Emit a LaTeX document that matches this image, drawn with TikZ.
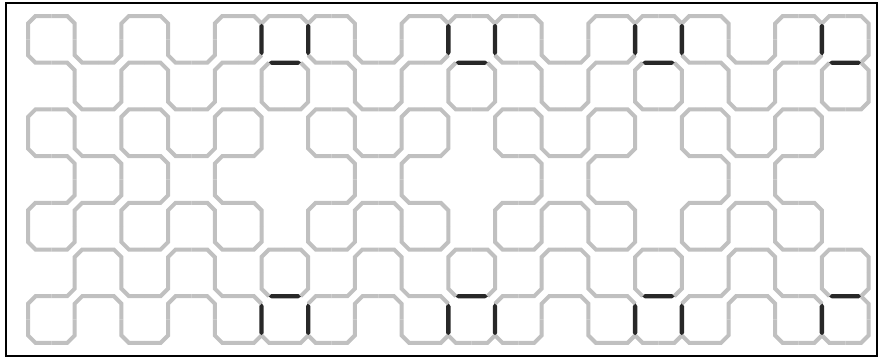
\documentclass[tikz,border=0pt]{standalone}
\definecolor{lg}{RGB}{192,192,192}
\definecolor{dg}{RGB}{40,40,40}
\tikzset{gl/.style={draw=lg, line width=4pt, line join=miter, line cap=butt},
 dl/.style={fill=dg}}
\def\hh{23.35}\def\cc{7.5}
% pair of half-edges at vertex (i,j) joined by a chamfer
\newcommand{\tpair}[6]{\draw[gl] ({28+46.7*(#1)+(#3)*\hh},{16+46.7*(#2)+(#4)*\hh}) -- ({28+46.7*(#1)+(#3)*\cc},{16+46.7*(#2)+(#4)*\cc}) -- ({28+46.7*(#1)+(#5)*\cc},{16+46.7*(#2)+(#6)*\cc}) -- ({28+46.7*(#1)+(#5)*\hh},{16+46.7*(#2)+(#6)*\hh});}
% gray half-edge joined by a chamfer to a dark edge
\newcommand{\tpaird}[6]{\draw[gl] ({28+46.7*(#1)+(#3)*\hh},{16+46.7*(#2)+(#4)*\hh}) -- ({28+46.7*(#1)+(#3)*\cc},{16+46.7*(#2)+(#4)*\cc}) -- ({28+46.7*(#1)+(#5)*\cc},{16+46.7*(#2)+(#6)*\cc});}
\newcommand{\myP}[2]{\tpair{#1}{#2}{0}{-1}{1}{0}\tpair{#1}{#2}{-1}{0}{0}{1}}
\newcommand{\myQ}[2]{\tpair{#1}{#2}{0}{-1}{-1}{0}\tpair{#1}{#2}{1}{0}{0}{1}}
% dark edges with tapered tips: vertical from (i,j) down, horizontal from (i,j) right
\newcommand{\dkv}[2]{\fill[dl] ({28+46.7*(#1)},{16+46.7*(#2)+6.5}) -- ({28+46.7*(#1)+2.2},{16+46.7*(#2)+10}) -- ({28+46.7*(#1)+2.2},{16+46.7*(#2)+36.7}) -- ({28+46.7*(#1)},{16+46.7*(#2)+40.2}) -- ({28+46.7*(#1)-2.2},{16+46.7*(#2)+36.7}) -- ({28+46.7*(#1)-2.2},{16+46.7*(#2)+10}) -- cycle;}
\newcommand{\dkh}[2]{\fill[dl] ({28+46.7*(#1)+6.5},{16+46.7*(#2)}) -- ({28+46.7*(#1)+10},{16+46.7*(#2)-2.2}) -- ({28+46.7*(#1)+36.7},{16+46.7*(#2)-2.2}) -- ({28+46.7*(#1)+40.2},{16+46.7*(#2)}) -- ({28+46.7*(#1)+36.7},{16+46.7*(#2)+2.2}) -- ({28+46.7*(#1)+10},{16+46.7*(#2)+2.2}) -- cycle;}
% columns r=0..3 of a period
\newcommand{\colA}[1]{%
 \tpair{#1}{0}{1}{0}{0}{1}
 \myQ{#1}{1}\myQ{#1}{2}\myQ{#1}{3}\myP{#1}{4}\myP{#1}{5}\myP{#1}{6}
 \tpair{#1}{7}{1}{0}{0}{-1}}
\newcommand{\colB}[1]{%
 \tpaird{#1}{0}{-1}{0}{0}{1}\tpaird{#1}{0}{1}{0}{0}{1}
 \tpaird{#1}{1}{-1}{0}{0}{-1}\tpaird{#1}{1}{0}{1}{1}{0}
 \myP{#1}{2}
 \tpair{#1}{3}{0}{-1}{-1}{0}
 \tpair{#1}{4}{0}{1}{-1}{0}
 \myQ{#1}{5}
 \tpaird{#1}{6}{0}{-1}{1}{0}\tpaird{#1}{6}{-1}{0}{0}{1}
 \tpaird{#1}{7}{-1}{0}{0}{-1}\tpaird{#1}{7}{1}{0}{0}{-1}}
\newcommand{\colC}[1]{%
 \tpaird{#1}{0}{-1}{0}{0}{1}\tpaird{#1}{0}{1}{0}{0}{1}
 \tpaird{#1}{1}{1}{0}{0}{-1}\tpaird{#1}{1}{0}{1}{-1}{0}
 \myQ{#1}{2}
 \tpair{#1}{3}{0}{-1}{1}{0}
 \tpair{#1}{4}{0}{1}{1}{0}
 \myP{#1}{5}
 \tpaird{#1}{6}{0}{-1}{-1}{0}\tpaird{#1}{6}{1}{0}{0}{1}
 \tpaird{#1}{7}{-1}{0}{0}{-1}\tpaird{#1}{7}{1}{0}{0}{-1}}
\newcommand{\colD}[1]{%
 \tpair{#1}{0}{-1}{0}{0}{1}
 \myP{#1}{1}\myP{#1}{2}\myP{#1}{3}\myQ{#1}{4}\myQ{#1}{5}\myQ{#1}{6}
 \tpair{#1}{7}{-1}{0}{0}{-1}}
\begin{document}
\begin{tikzpicture}[x=1pt,y=-1pt]
\useasboundingbox (0,0) rectangle (879,359);
\fill[white] (0,0) rectangle (879,359);
\draw[line width=1.6pt, black] (6,3) rectangle (877,356);
% dark edges
\foreach \k in {4,8,12}{
 \dkv{\k+1}{0}\dkv{\k+2}{0}\dkh{\k+1}{1}
 \dkv{\k+1}{6}\dkv{\k+2}{6}\dkh{\k+1}{6}}
\dkv{17}{0}\dkh{17}{1}\dkv{17}{6}\dkh{17}{6}
% left part
\tpair{0}{0}{1}{0}{0}{1}
\tpair{0}{1}{0}{-1}{1}{0}
\tpair{0}{2}{1}{0}{0}{1}
\tpair{0}{3}{0}{-1}{1}{0}
\tpair{0}{4}{1}{0}{0}{1}
\tpair{0}{5}{0}{-1}{1}{0}
\tpair{0}{6}{1}{0}{0}{1}
\tpair{0}{7}{0}{-1}{1}{0}
\tpair{1}{0}{-1}{0}{0}{1}
\myP{1}{1}\myP{1}{2}\myP{1}{3}\myQ{1}{4}\myQ{1}{5}\myQ{1}{6}
\tpair{1}{7}{-1}{0}{0}{-1}
\tpair{2}{0}{1}{0}{0}{1}
\myQ{2}{1}\myQ{2}{2}\myP{2}{3}\myQ{2}{4}\myP{2}{5}\myP{2}{6}
\tpair{2}{7}{1}{0}{0}{-1}
\colD{3}
% periodic part
\foreach \k in {4,8,12}{
 \colA{\k}\colB{\k+1}\colC{\k+2}\colD{\k+3}}
\colA{16}\colB{17}
% right boundary column
\tpair{18}{0}{-1}{0}{0}{1}
\tpaird{18}{1}{0}{-1}{-1}{0}\tpaird{18}{1}{0}{1}{-1}{0}
\tpair{18}{2}{0}{-1}{-1}{0}
\tpair{18}{5}{0}{1}{-1}{0}
\tpaird{18}{6}{0}{-1}{-1}{0}\tpaird{18}{6}{0}{1}{-1}{0}
\tpair{18}{7}{0}{-1}{-1}{0}
\end{tikzpicture}
\end{document}
